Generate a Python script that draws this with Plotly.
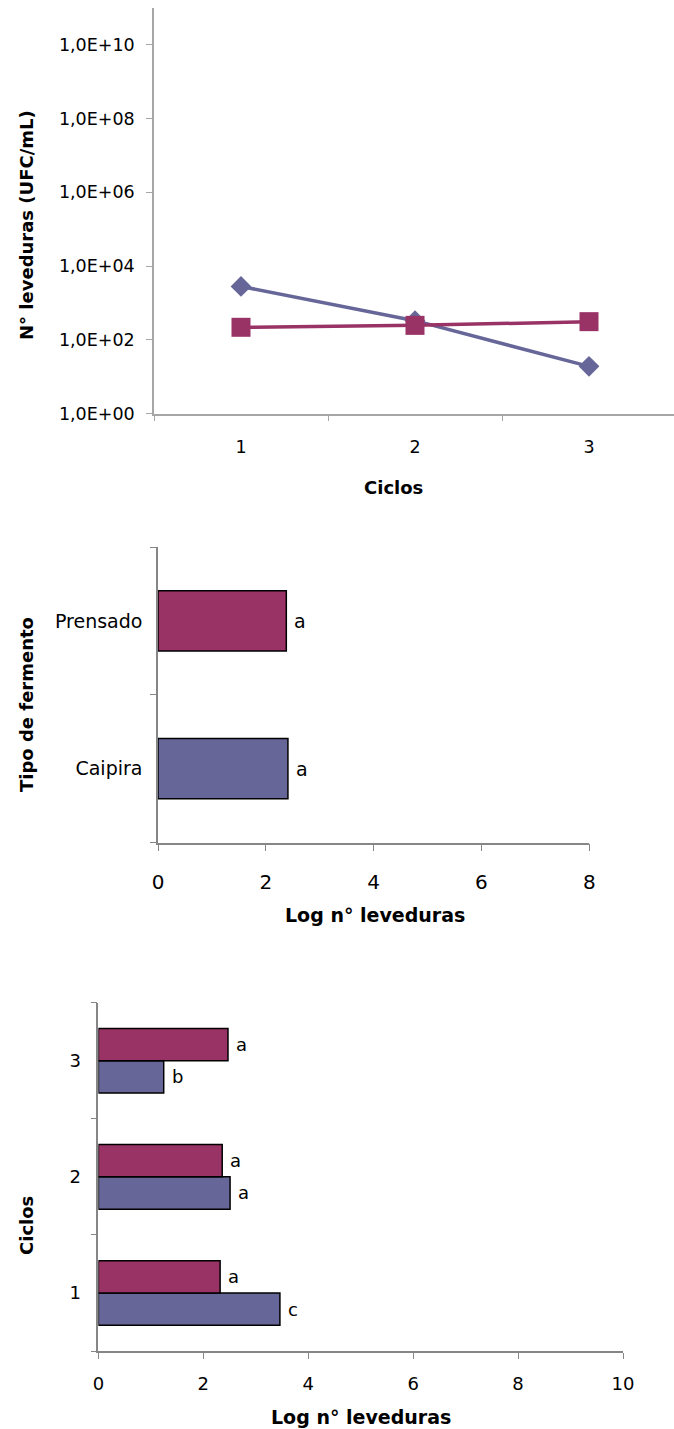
import plotly.graph_objects as go

W, H = 674, 1429
FONT = "DejaVu Sans"

# ---------------- data ----------------
ciclos = ["1", "2", "3"]
# chart 1: yeast counts (UFC/mL), log scale
caipira_ufc = [2800, 330, 19]
prensado_ufc = [218, 246, 310]
y1_tickvals = [1, 1e2, 1e4, 1e6, 1e8, 1e10]
y1_ticktext = ["1,0E+00", "1,0E+02", "1,0E+04", "1,0E+06", "1,0E+08", "1,0E+10"]

# chart 2: mean log counts per ferment type
tipos = ["Caipira", "Prensado"]
tipo_log = [2.41, 2.38]
tipo_letters = ["a", "a"]

# chart 3: log counts per cycle
caipira_log = [3.46, 2.51, 1.245]
prensado_log = [2.32, 2.36, 2.47]
caipira_letters = ["c", "a", "b"]
prensado_letters = ["a", "a", "a"]

BLUE = "#666699"
MAGENTA = "#993366"


def fx(px):
    return px / W


def fy(py):
    return 1 - py / H


fig = go.Figure()

# chart 1 lines
fig.add_trace(go.Scatter(x=ciclos, y=caipira_ufc, mode="lines+markers", name="Caipira",
                         line=dict(color=BLUE, width=3.5),
                         marker=dict(symbol="diamond", size=16, color=BLUE),
                         xaxis="x", yaxis="y", cliponaxis=False))
fig.add_trace(go.Scatter(x=ciclos, y=prensado_ufc, mode="lines+markers", name="Prensado",
                         line=dict(color=MAGENTA, width=3.5),
                         marker=dict(symbol="square", size=19, color=MAGENTA),
                         xaxis="x", yaxis="y", cliponaxis=False))

# chart 2 bars
fig.add_trace(go.Bar(y=tipos, x=tipo_log, orientation="h", width=0.407,
                     marker=dict(color=[BLUE, MAGENTA], line=dict(color="black", width=1.5)),
                     xaxis="x2", yaxis="y2"))

# chart 3 bars
fig.add_trace(go.Bar(y=ciclos, x=caipira_log, orientation="h", width=0.278, offset=-0.278,
                     marker=dict(color=BLUE, line=dict(color="black", width=1.5)),
                     xaxis="x3", yaxis="y3"))
fig.add_trace(go.Bar(y=ciclos, x=prensado_log, orientation="h", width=0.278, offset=0,
                     marker=dict(color=MAGENTA, line=dict(color="black", width=1.5)),
                     xaxis="x3", yaxis="y3"))

annotations = []
# letters chart 2
for t, v, l in zip(tipos, tipo_log, tipo_letters):
    annotations.append(dict(x=v, y=t, xref="x2", yref="y2", text=l, showarrow=False,
                            xanchor="left", xshift=6, font=dict(family=FONT, size=19, color="black")))
# letters chart 3
for i, (c, v, l) in enumerate(zip(ciclos, caipira_log, caipira_letters)):
    annotations.append(dict(x=v, y=i - 0.139, xref="x3", yref="y3", text=l, showarrow=False,
                            xanchor="left", xshift=6, font=dict(family=FONT, size=18, color="black")))
for i, (c, v, l) in enumerate(zip(ciclos, prensado_log, prensado_letters)):
    annotations.append(dict(x=v, y=i + 0.139, xref="x3", yref="y3", text=l, showarrow=False,
                            xanchor="left", xshift=6, font=dict(family=FONT, size=18, color="black")))

# titles
def title(text, x, y, size, angle=0):
    annotations.append(dict(x=fx(x), y=fy(y), xref="paper", yref="paper", text="<b>%s</b>" % text,
                            showarrow=False, xanchor="center", yanchor="middle", textangle=angle,
                            font=dict(family=FONT, size=size, color="black")))

title("N° leveduras (UFC/mL)", 26, 225, 18, -90)
title("Ciclos", 393, 487, 18)
title("Tipo de fermento", 26, 705, 18, -90)
title("Log n° leveduras", 375, 915, 19)
title("Ciclos", 26, 1226, 18, -90)
title("Log n° leveduras", 361, 1417, 19)

LIGHT = "#a6a6a6"
DARK = "#868686"

common = dict(showgrid=False, zeroline=False, showline=True, ticks="outside", automargin=False,
              tickfont=dict(family=FONT, color="black"))

fig.update_layout(
    template="none",
    width=W, height=H, margin=dict(l=0, r=0, t=0, b=0, pad=0),
    paper_bgcolor="white", plot_bgcolor="white", showlegend=False,
    barmode="overlay",
    annotations=annotations,
    xaxis=dict(**common, domain=[fx(154), 1], type="category", tickson="boundaries",
               range=[-0.5, -0.5 + (674 - 154) / 174.0], linecolor=LIGHT, tickcolor=LIGHT,
               linewidth=1.5, ticklen=6, anchor="y", tickfont_size=17.5, ticklabelstandoff=17),
    yaxis=dict(**common, domain=[fy(413.5), fy(8)], type="log", range=[0, 11],
               tickvals=y1_tickvals, ticktext=y1_ticktext, linecolor=LIGHT, tickcolor=LIGHT,
               linewidth=1.5, ticklen=6, anchor="x", tickfont_size=17.5, ticklabelstandoff=8),
    xaxis2=dict(**common, domain=[fx(158), fx(589.3)], range=[0, 8], dtick=2,
                linecolor=DARK, tickcolor=DARK, linewidth=1.5, ticklen=7, anchor="y2",
                tickfont_size=20, ticklabelstandoff=14),
    yaxis2=dict(**common, domain=[fy(842.5), fy(547)], type="category", tickson="boundaries",
                range=[-0.5, 1.5], linecolor=DARK, tickcolor=DARK, linewidth=1.5, ticklen=6,
                anchor="x2", tickfont_size=19, ticklabelstandoff=10),
    xaxis3=dict(**common, domain=[fx(98.4), fx(623)], range=[0, 10], dtick=2,
                linecolor=DARK, tickcolor=DARK, linewidth=1.5, ticklen=6, anchor="y3",
                tickfont_size=18, ticklabelstandoff=10),
    yaxis3=dict(**common, domain=[fy(1351), fy(1002.7)], type="category", tickson="boundaries",
                range=[-0.5, 2.5], linecolor=DARK, tickcolor=DARK, linewidth=1.5, ticklen=6,
                anchor="x3", tickfont_size=18, ticklabelstandoff=12),
)

fig.write_html("out.html")
